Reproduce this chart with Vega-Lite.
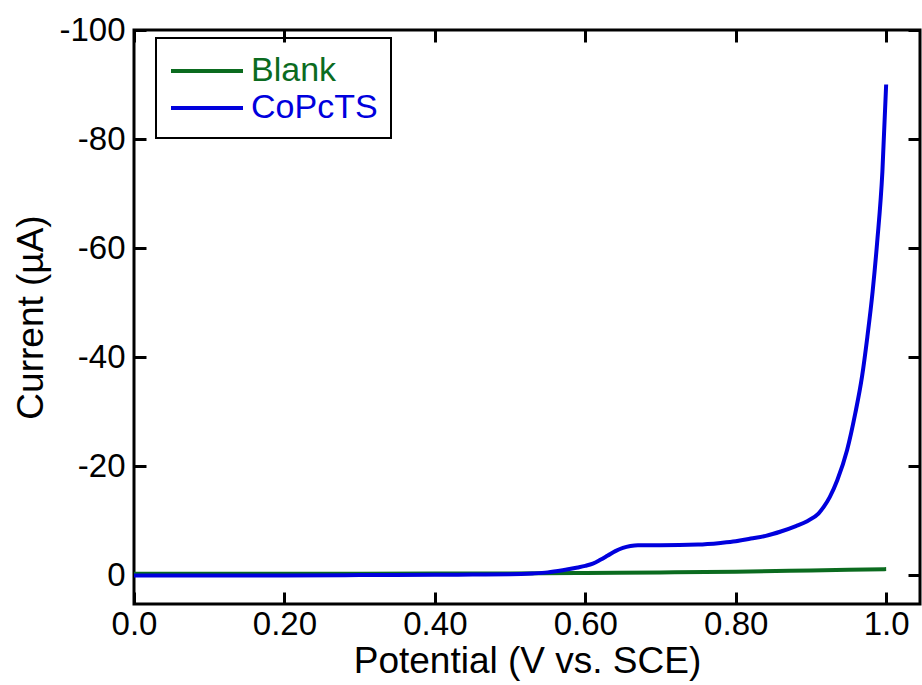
{
  "$schema": "https://vega.github.io/schema/vega-lite/v6.json",
  "width": 786,
  "height": 574,
  "autosize": "none",
  "padding": {"left": 134, "top": 30, "right": 2, "bottom": 81},
  "background": "white",
  "config": {
    "font": "Liberation Sans",
    "view": {"stroke": "black", "strokeWidth": 3},
    "axis": {
      "domain": false,
      "grid": false,
      "ticks": true,
      "tickColor": "black",
      "tickWidth": 3,
      "tickSize": -12,
      "labelFlush": false,
      "labelColor": "black",
      "labelFontSize": 33,
      "labelFont": "Liberation Sans",
      "titleFont": "Liberation Sans",
      "titleFontSize": 37,
      "titleFontWeight": "normal",
      "titleColor": "black"
    }
  },
  "data": {
    "values": [
      {"series": "Blank", "potential": 0.0, "current": -0.25},
      {"series": "Blank", "potential": 0.2, "current": -0.25},
      {"series": "Blank", "potential": 0.4, "current": -0.28},
      {"series": "Blank", "potential": 0.5, "current": -0.3},
      {"series": "Blank", "potential": 0.6, "current": -0.38},
      {"series": "Blank", "potential": 0.7, "current": -0.48},
      {"series": "Blank", "potential": 0.8, "current": -0.62},
      {"series": "Blank", "potential": 0.9, "current": -0.85},
      {"series": "Blank", "potential": 0.95, "current": -0.97},
      {"series": "Blank", "potential": 1.0, "current": -1.1},
      {"series": "CoPcTS", "potential": 0.0, "current": 0.05},
      {"series": "CoPcTS", "potential": 0.1, "current": 0.05},
      {"series": "CoPcTS", "potential": 0.2, "current": 0.05},
      {"series": "CoPcTS", "potential": 0.3, "current": 0.0},
      {"series": "CoPcTS", "potential": 0.4, "current": -0.05},
      {"series": "CoPcTS", "potential": 0.45, "current": -0.1},
      {"series": "CoPcTS", "potential": 0.5, "current": -0.15},
      {"series": "CoPcTS", "potential": 0.53, "current": -0.3},
      {"series": "CoPcTS", "potential": 0.55, "current": -0.5},
      {"series": "CoPcTS", "potential": 0.57, "current": -0.9},
      {"series": "CoPcTS", "potential": 0.59, "current": -1.4},
      {"series": "CoPcTS", "potential": 0.6, "current": -1.7},
      {"series": "CoPcTS", "potential": 0.61, "current": -2.1},
      {"series": "CoPcTS", "potential": 0.62, "current": -2.8},
      {"series": "CoPcTS", "potential": 0.63, "current": -3.6},
      {"series": "CoPcTS", "potential": 0.64, "current": -4.4},
      {"series": "CoPcTS", "potential": 0.65, "current": -5.0},
      {"series": "CoPcTS", "potential": 0.66, "current": -5.35},
      {"series": "CoPcTS", "potential": 0.67, "current": -5.5},
      {"series": "CoPcTS", "potential": 0.7, "current": -5.5},
      {"series": "CoPcTS", "potential": 0.75, "current": -5.6},
      {"series": "CoPcTS", "potential": 0.78, "current": -5.9},
      {"series": "CoPcTS", "potential": 0.8, "current": -6.2},
      {"series": "CoPcTS", "potential": 0.82, "current": -6.7},
      {"series": "CoPcTS", "potential": 0.84, "current": -7.2},
      {"series": "CoPcTS", "potential": 0.86, "current": -8.0},
      {"series": "CoPcTS", "potential": 0.88, "current": -9.0},
      {"series": "CoPcTS", "potential": 0.895, "current": -9.9},
      {"series": "CoPcTS", "potential": 0.91, "current": -11.3},
      {"series": "CoPcTS", "potential": 0.917, "current": -12.5},
      {"series": "CoPcTS", "potential": 0.925, "current": -14.3},
      {"series": "CoPcTS", "potential": 0.935, "current": -17.4},
      {"series": "CoPcTS", "potential": 0.948, "current": -22.9},
      {"series": "CoPcTS", "potential": 0.959, "current": -29.7},
      {"series": "CoPcTS", "potential": 0.968, "current": -36.5},
      {"series": "CoPcTS", "potential": 0.975, "current": -43.7},
      {"series": "CoPcTS", "potential": 0.982, "current": -52.0},
      {"series": "CoPcTS", "potential": 0.988, "current": -61.0},
      {"series": "CoPcTS", "potential": 0.995, "current": -74.0},
      {"series": "CoPcTS", "potential": 1.0, "current": -90}
    ]
  },
  "layer": [
    {
      "mark": {"type": "line", "strokeWidth": 4, "interpolate": "monotone"},
      "encoding": {
        "x": {
          "field": "potential",
          "type": "quantitative",
          "scale": {"domain": [0, 1.045], "nice": false, "zero": false},
          "axis": {
            "orient": "bottom",
            "title": "Potential (V vs. SCE)",
            "values": [0, 0.2, 0.4, 0.6, 0.8, 1.0],
            "labelExpr": "datum.value == 0 ? '0.0' : (datum.value == 1 ? '1.0' : format(datum.value, '.2f'))",
            "labelPadding": 16,
            "titlePadding": 2
          }
        },
        "y": {
          "field": "current",
          "type": "quantitative",
          "scale": {"domain": [-100, 5.3], "nice": false, "zero": false, "reverse": true},
          "axis": {
            "orient": "left",
            "title": "Current (µA)",
            "values": [-100, -80, -60, -40, -20, 0],
            "labelExpr": "'' + datum.value",
            "labelPadding": 21,
            "titlePadding": 8
          }
        },
        "color": {
          "field": "series",
          "type": "nominal",
          "scale": {"domain": ["Blank", "CoPcTS"], "range": ["#0b6b1f", "#0000dd"]},
          "legend": {
            "orient": "none",
            "legendX": 22,
            "legendY": 8,
            "title": null,
            "strokeColor": "black",
            "padding": 13,
            "symbolType": "M-1,0H3",
            "symbolSize": 1296,
            "symbolStrokeWidth": 4,
            "labelOffset": 42,
            "labelFontSize": 34,
            "labelFont": "Liberation Sans",
            "rowPadding": 0,
            "encode": {
              "legend": {"update": {"strokeWidth": {"value": 2}}},
              "labels": {"update": {"fill": {"signal": "datum.label == 'Blank' ? '#0b6b1f' : '#0000dd'"}}}
            }
          }
        }
      }
    },
    {
      "mark": {"type": "line", "opacity": 0},
      "encoding": {
        "x": {
          "field": "potential",
          "type": "quantitative",
          "axis": {"orient": "top", "title": null, "labels": false, "values": [0, 0.2, 0.4, 0.6, 0.8, 1.0]}
        },
        "y": {
          "field": "current",
          "type": "quantitative",
          "axis": {"orient": "right", "title": null, "labels": false, "values": [-100, -80, -60, -40, -20, 0]}
        },
        "detail": {"field": "series", "type": "nominal"}
      }
    }
  ],
  "resolve": {"axis": {"x": "independent", "y": "independent"}}
}
